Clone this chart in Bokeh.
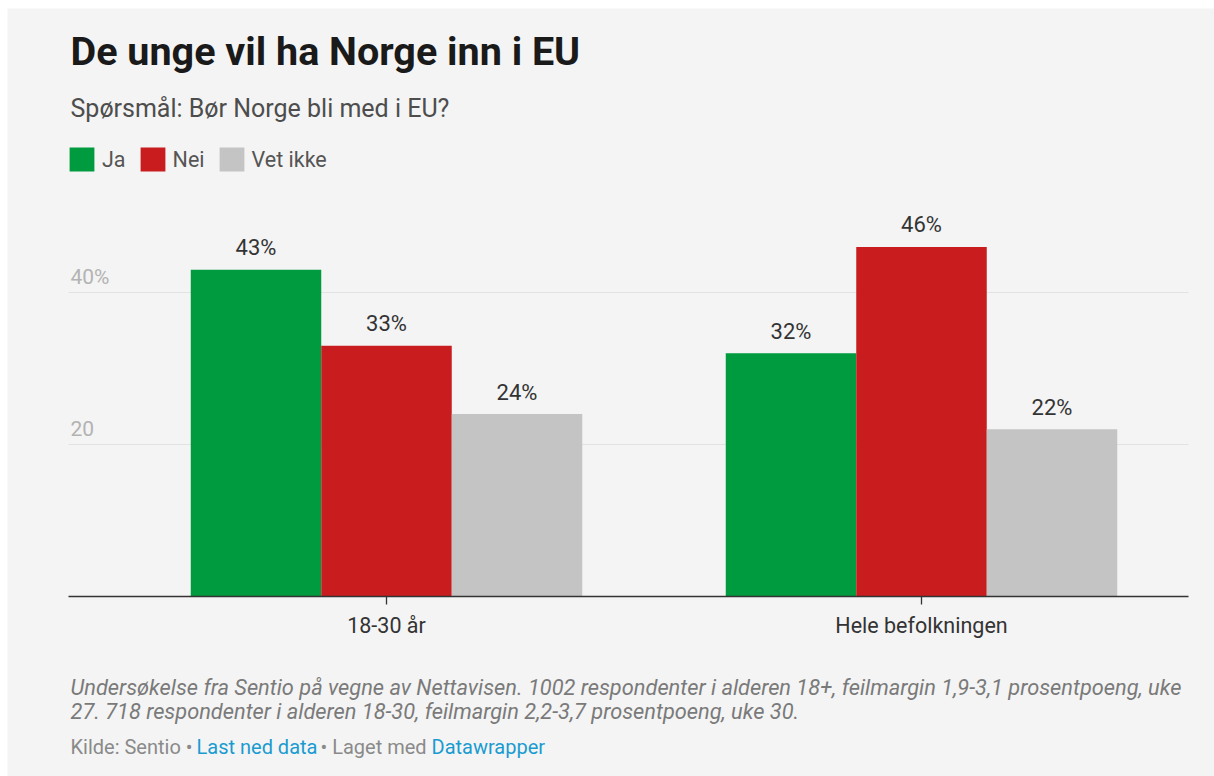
from bokeh.plotting import figure
from bokeh.models import Range1d, Label, Legend, LegendItem, ColumnDataSource
from bokeh.transform import dodge
from bokeh.core.properties import value
from bokeh.embed import file_html
from bokeh.resources import INLINE

# ---- data ----
groups = ["18-30 år", "Hele befolkningen"]
series = ["Ja", "Nei", "Vet ikke"]
ja = [43, 32]
nei = [33, 46]
vet_ikke = [24, 22]
y_ticks = [20, 40]
y_tick_labels = ["20", "40%"]

title = "De unge vil ha Norge inn i EU"
subtitle = "Spørsmål: Bør Norge bli med i EU?"
note1 = "Undersøkelse fra Sentio på vegne av Nettavisen. 1002 respondenter i alderen 18+, feilmargin 1,9-3,1 prosentpoeng, uke"
note2 = "27. 718 respondenter i alderen 18-30, feilmargin 2,2-3,7 prosentpoeng, uke 30."
source_parts = ["Kilde: Sentio •", "Last ned data", "• Laget med", "Datawrapper"]

colors = ["#009b3e", "#c81c1e", "#c4c4c4"]
BG = "#f4f4f4"
FONT = "Roboto"

# ---- layout (page pixels) ----
W, H = 1214, 776
FL, FT = 7, 8            # frame starts here (white band above/left)
G0, GPX = 386, 535       # px of first group centre, px per group
Y0, PXU = 596, 7.6       # px of zero line, px per percent
AX_L, AX_R = 68, 1188    # extent of axis line / gridlines


def dx(px):
    return (px - G0) / GPX


def sx(px):
    return px - FL


def sy(px_baseline, size):
    # screen-up coordinate of a baseline given in page px (with svg baseline shift)
    return H - px_baseline + round(0.35 * size)


p = figure(width=W, height=H, output_backend="svg", toolbar_location=None,
           x_range=Range1d(dx(FL), dx(W)),
           y_range=Range1d(-(H - Y0) / PXU, (Y0 - FT) / PXU),
           x_axis_location=None, y_axis_location=None,
           min_border_left=FL, min_border_top=FT, min_border_right=0, min_border_bottom=0)
p.background_fill_color = BG
p.border_fill_color = "white"
p.outline_line_color = None
p.xgrid.visible = False
p.ygrid.visible = False

# gridlines
p.segment(x0=[dx(AX_L)] * len(y_ticks), x1=[dx(AX_R)] * len(y_ticks), y0=y_ticks, y1=y_ticks,
          line_color="#e2e2e2", line_width=1)
p.text(x=[dx(AX_L)] * len(y_ticks), y=y_ticks, text=y_tick_labels, x_offset=2, y_offset=-16,
       text_font=value(FONT), text_font_size="21px", text_color="#b3b3b3",
       text_align="left", text_baseline="alphabetic")

# bars
src = ColumnDataSource(dict(idx=list(range(len(groups))), ja=ja, nei=nei, vet=vet_ikke,
                            ja_l=[f"{v}%" for v in ja], nei_l=[f"{v}%" for v in nei],
                            vet_l=[f"{v}%" for v in vet_ikke]))
bw = 130.5 / GPX
offs = [-bw, 0.0, bw]
renderers = []
for col, off, c in zip(["ja", "nei", "vet"], offs, colors):
    r = p.vbar(x=dodge("idx", off), top=col, width=bw, bottom=0, source=src,
               fill_color=c, line_color=None)
    renderers.append(r)
    p.text(x=dodge("idx", off), y=col, text=col + "_l", source=src,
           text_align="center", text_baseline="alphabetic", y_offset=-22,
           text_font=value(FONT), text_font_size="22px", text_color="#333333")

# x axis (baseline, ticks, labels)
p.segment(x0=[dx(AX_L)], x1=[dx(AX_R)], y0=[0], y1=[0], line_color="#333333", line_width=1.6)
idx = list(range(len(groups)))
p.segment(x0=idx, x1=idx, y0=[0] * len(idx), y1=[-8 / PXU] * len(idx),
          line_color="#333333", line_width=1.3)
p.text(x=idx, y=[0] * len(idx), text=groups, y_offset=29,
       text_font=value(FONT), text_font_size="21.5px", text_color="#333333",
       text_align="center", text_baseline="alphabetic")

# legend
legend = Legend(items=[LegendItem(label=s, renderers=[r]) for s, r in zip(series, renderers)],
                orientation="horizontal", location=(sx(66), H - 174),
                glyph_width=31, glyph_height=30, label_standoff=5, spacing=11,
                padding=0, margin=0, background_fill_alpha=0, border_line_color=None,
                label_text_font=FONT, label_text_font_size="21.5px", label_text_color="#555555")
p.add_layout(legend, "center")


def lab(text, x, base, size, color, style="normal"):
    p.add_layout(Label(x=sx(x), y=sy(base, size), x_units="screen", y_units="screen",
                       text=text, text_font=FONT, text_font_size=f"{size}px", text_color=color,
                       text_font_style=style, text_baseline="alphabetic"))


lab(title, 70, 65.3, 39.5, "#1a1a1a", style="bold")
lab(subtitle, 70, 117.3, 25, "#4d4d4d")
lab(note1, 70, 694.7, 21.8, "#7a7a7a", style="italic")
lab(note2, 70, 718.7, 21.8, "#7a7a7a", style="italic")
src_x = [70, 196, 320, 431]
src_c = ["#8a8a8a", "#1a9bd0", "#8a8a8a", "#1a9bd0"]
for t, x, c in zip(source_parts, src_x, src_c):
    lab(t, x, 753, 20, c)

open("out.html", "w").write(file_html(p, INLINE))
